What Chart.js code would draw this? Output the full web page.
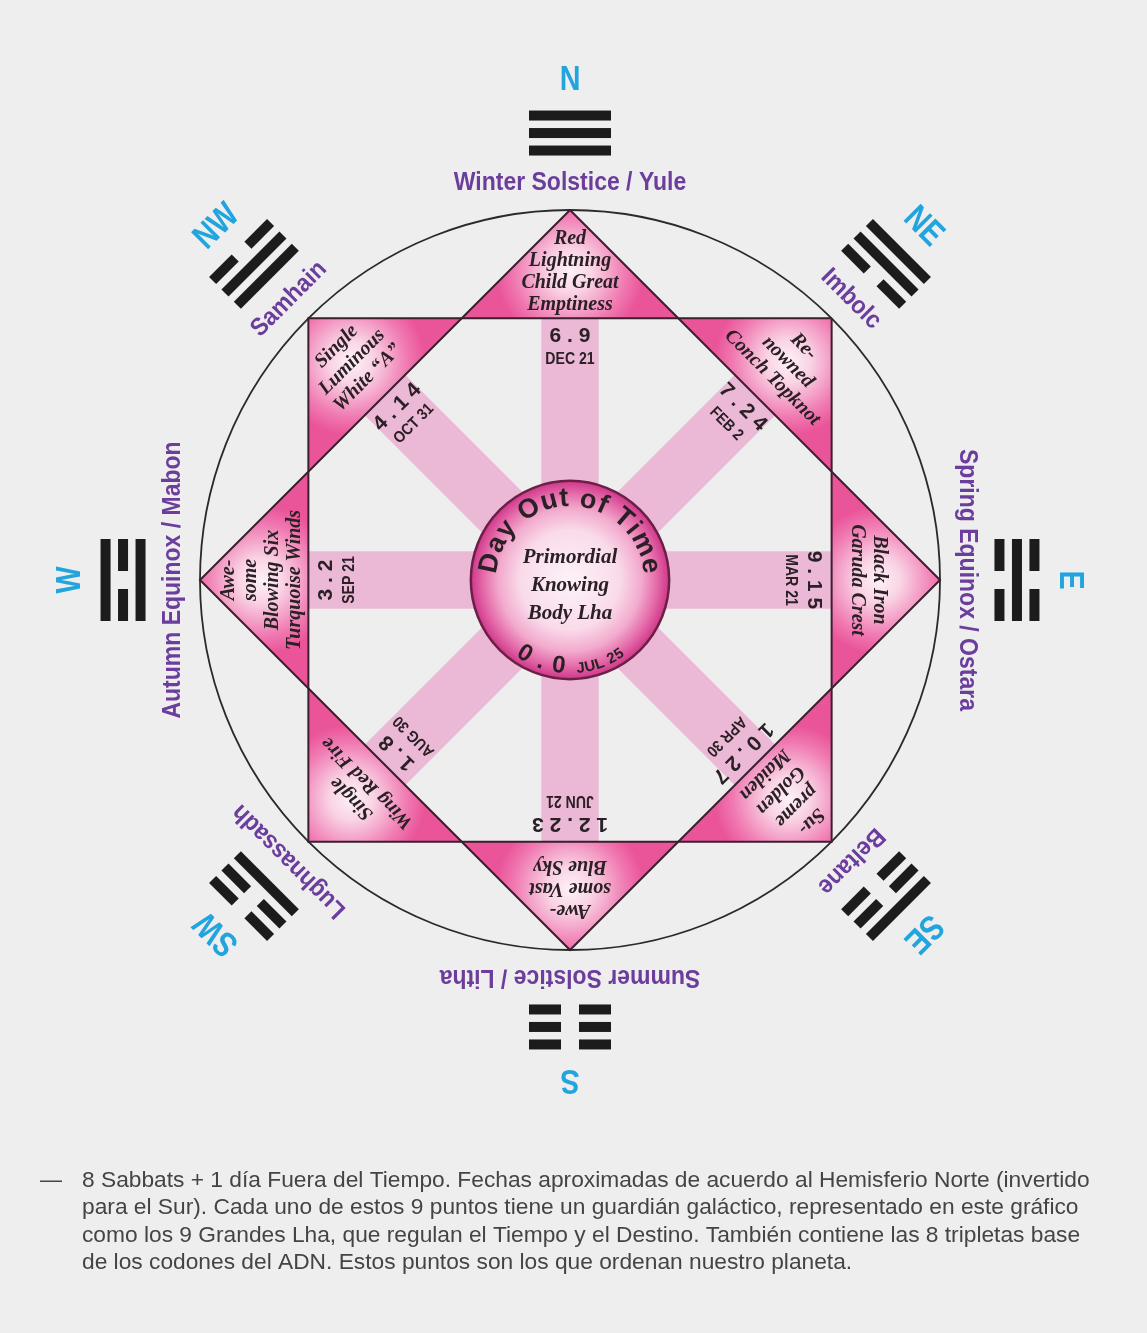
<!DOCTYPE html>
<html>
<head>
<meta charset="utf-8">
<script src="https://cdn.jsdelivr.net/npm/chart.js@4.4.0/dist/chart.umd.min.js"></script>
<style>
  html, body { margin: 0; padding: 0; background: #eeeeee; }
  canvas { display: block; }
</style>
</head>
<body>
<canvas id="myChart" width="1147" height="1333"></canvas>
<script>
// ---- data ----
const directions = ['N', 'NE', 'E', 'SE', 'S', 'SW', 'W', 'NW'];
const angles = [0, 45, 90, 135, 180, 225, 270, 315];
const sabbats = ['Winter Solstice / Yule', 'Imbolc', 'Spring Equinox / Ostara', 'Beltane',
                 'Summer Solstice / Litha', 'Lughnassadh', 'Autumn Equinox / Mabon', 'Samhain'];
// trigram lines from inner to outer, 1 = solid, 0 = broken
const trigrams = ['111', '011', '010', '001', '000', '100', '101', '110'];
const guardians = [
    ['Red', 'Lightning', 'Child Great', 'Emptiness'],
    ['Re-', 'nowned', 'Conch Topknot'],
    ['Black Iron', 'Garuda Crest'],
    ['Su-', 'preme', 'Golden', 'Maiden'],
    ['Awe-', 'some Vast', 'Blue Sky'],
    ['Single', 'Wing Red Fire'],
    ['Awe-', 'some', 'Blowing Six', 'Turquoise Winds'],
    ['Single', 'Luminous', 'White \u201CA\u201D']
];
const codes = ['6.9', '7.24', '9.15', '10.27', '12.23', '1.8', '3.2', '4.14'];
const dates = ['DEC 21', 'FEB 2', 'MAR 21', 'APR 30', 'JUN 21', 'AUG 30', 'SEP 21', 'OCT 31'];
const centerTitle = 'Day Out of Time';
const centerGuardian = ['Primordial', 'Knowing', 'Body Lha'];
const centerCode = '0.0';
const centerDate = 'JUL 25';
const footnote = [
    '8 Sabbats + 1 día Fuera del Tiempo. Fechas aproximadas de acuerdo al Hemisferio Norte (invertido',
    'para el Sur). Cada uno de estos 9 puntos tiene un guardián galáctico, representado en este gráfico',
    'como los 9 Grandes Lha, que regulan el Tiempo y el Destino. También contiene las 8 tripletas base',
    'de los codones del ADN. Estos puntos son los que ordenan nuestro planeta.'
];

// ---- layout (in units of the outer circle radius) ----
const CX = 570, CY = 580, RADIUS_PX = 370;
const APOTHEM = Math.SQRT1_2;
const OCT_R = APOTHEM / Math.cos(Math.PI / 8);
const CENTER_R = 0.268;
const RAY_W = 0.155;

const SANS = '"Liberation Sans", Arial, sans-serif';
const SERIF = '"Liberation Serif", "Times New Roman", serif';
const PURPLE = '#6b3d9c';
const CYAN = '#22a5de';
const INK = '#2a2026';

function pt(chart, r, deg) {
    const a = deg * Math.PI / 180;
    return {
        x: chart.scales.x.getPixelForValue(r * Math.sin(a)),
        y: chart.scales.y.getPixelForValue(r * Math.cos(a))
    };
}

function unit(chart) {
    return chart.scales.x.getPixelForValue(1) - chart.scales.x.getPixelForValue(0);
}

function drawText(ctx, text, p, rot, font, color, sx) {
    ctx.save();
    ctx.translate(p.x, p.y);
    ctx.rotate(rot);
    if (sx) ctx.scale(sx, 1);
    ctx.font = font;
    ctx.fillStyle = color;
    ctx.textAlign = 'center';
    ctx.textBaseline = 'middle';
    ctx.fillText(text, 0, 0);
    ctx.restore();
}

function arcText(ctx, c, runs, radius, mid, top) {
    let chars = [];
    runs.forEach(run => {
        ctx.font = run.font;
        for (const ch of run.text) {
            chars.push({ ch: ch, font: run.font, w: ctx.measureText(ch).width + run.spacing });
        }
    });
    let total = chars.reduce((s, k) => s + k.w, 0) / radius;
    let acc = 0;
    chars.forEach(k => {
        let phi = top ? mid - total / 2 + (acc + k.w / 2) / radius
                      : mid + total / 2 - (acc + k.w / 2) / radius;
        acc += k.w;
        ctx.save();
        ctx.translate(c.x + radius * Math.sin(phi), c.y - radius * Math.cos(phi));
        ctx.rotate(top ? phi : phi - Math.PI);
        ctx.font = k.font;
        ctx.fillStyle = INK;
        ctx.textAlign = 'center';
        ctx.textBaseline = 'alphabetic';
        ctx.fillText(k.ch, 0, 0);
        ctx.restore();
    });
}

const bgPlugin = {
    id: 'bg',
    beforeDraw(chart) {
        const ctx = chart.ctx;
        ctx.save();
        ctx.fillStyle = '#eeeeee';
        ctx.fillRect(0, 0, chart.width, chart.height);
        ctx.restore();
    }
};

const wheelPlugin = {
    id: 'wheel',
    beforeDatasetsDraw(chart) {
        const ctx = chart.ctx, u = unit(chart), c = pt(chart, 0, 0);
        ctx.save();
        // outer circle
        ctx.beginPath();
        ctx.arc(c.x, c.y, u, 0, 2 * Math.PI);
        ctx.strokeStyle = '#2a2a2a';
        ctx.lineWidth = 1.8;
        ctx.stroke();
        // rays
        angles.forEach(a => {
            const r = a * Math.PI / 180, hw = RAY_W * u / 2;
            const ox = Math.cos(r) * hw, oy = Math.sin(r) * hw;
            const p1 = pt(chart, APOTHEM, a);
            ctx.beginPath();
            ctx.moveTo(c.x + ox, c.y + oy);
            ctx.lineTo(p1.x + ox, p1.y + oy);
            ctx.lineTo(p1.x - ox, p1.y - oy);
            ctx.lineTo(c.x - ox, c.y - oy);
            ctx.closePath();
            ctx.fillStyle = '#ebb9d5';
            ctx.fill();
        });
        // star points
        angles.forEach(a => {
            const tip = pt(chart, 1, a), l = pt(chart, OCT_R, a - 22.5), rr = pt(chart, OCT_R, a + 22.5);
            const g = pt(chart, 0.835, a);
            const grad = ctx.createRadialGradient(g.x, g.y, 0, g.x, g.y, 0.2 * u);
            grad.addColorStop(0, '#fdf1f7');
            grad.addColorStop(0.3, '#f9d3e4');
            grad.addColorStop(0.75, '#f07ab2');
            grad.addColorStop(1, '#ea5499');
            ctx.beginPath();
            ctx.moveTo(tip.x, tip.y);
            ctx.lineTo(l.x, l.y);
            ctx.lineTo(rr.x, rr.y);
            ctx.closePath();
            ctx.fillStyle = grad;
            ctx.fill();
        });
        ctx.restore();
    },
    afterDatasetsDraw(chart) {
        const ctx = chart.ctx, u = unit(chart), c = pt(chart, 0, 0);
        ctx.save();
        // center disc
        const grad = ctx.createRadialGradient(c.x, c.y, 0, c.x, c.y, CENTER_R * u);
        grad.addColorStop(0, '#fdf2f8');
        grad.addColorStop(0.5, '#f9dbea');
        grad.addColorStop(0.72, '#f2aacd');
        grad.addColorStop(0.88, '#e468a8');
        grad.addColorStop(1, '#cf378a');
        ctx.beginPath();
        ctx.arc(c.x, c.y, CENTER_R * u, 0, 2 * Math.PI);
        ctx.fillStyle = grad;
        ctx.fill();
        ctx.strokeStyle = '#6a2145';
        ctx.lineWidth = 2.5;
        ctx.stroke();

        arcText(ctx, c, [{ text: centerTitle, font: 'bold 27px ' + SANS, spacing: 1 }], 0.2 * u, 0, true);
        arcText(ctx, c, [
            { text: centerCode.split('').join(' '), font: 'bold 24px ' + SANS, spacing: 1.5 },
            { text: '  ', font: 'bold 15px ' + SANS, spacing: 1.5 },
            { text: centerDate, font: 'bold 15px ' + SANS, spacing: 0.5 }
        ], 0.252 * u, Math.PI, false);
        centerGuardian.forEach((line, i) => {
            drawText(ctx, line, { x: c.x, y: c.y + (i - 1) * 28 + 6 }, 0, 'italic bold 21px ' + SERIF, INK);
        });

        angles.forEach((a, i) => {
            const rot = a * Math.PI / 180;
            // codes and dates on the rays
            drawText(ctx, codes[i].split('').join(' '), pt(chart, 0.66, a), rot, 'bold 21px ' + SANS, INK);
            drawText(ctx, dates[i], pt(chart, 0.597, a), rot, 'bold 16px ' + SANS, INK, 0.88);
            // guardian names in the star points
            const lines = guardians[i];
            const mid = lines.length === 2 ? 0.805 : 0.833;
            const sp = 0.0595;
            lines.forEach((line, j) => {
                const r = mid + ((lines.length - 1) / 2 - j) * sp;
                drawText(ctx, line, pt(chart, r, a), rot, 'italic bold 20px ' + SERIF, INK);
            });
            // sabbat names
            drawText(ctx, sabbats[i], pt(chart, 1.074, a), rot, 'bold 25px ' + SANS, PURPLE, 0.92);
            // trigram
            trigrams[i].split('').forEach((bit, k) => {
                const p = pt(chart, 1.208 + (k - 1) * 0.0473, a);
                ctx.save();
                ctx.translate(p.x, p.y);
                ctx.rotate(rot);
                ctx.fillStyle = '#1c1c1c';
                if (bit === '1') {
                    ctx.fillRect(-41, -5, 82, 10);
                } else {
                    ctx.fillRect(-41, -5, 32, 10);
                    ctx.fillRect(9, -5, 32, 10);
                }
                ctx.restore();
            });
            // compass letter
            drawText(ctx, directions[i], pt(chart, 1.35, a), rot, 'bold 35px ' + SANS, CYAN, 0.82);
        });

        // footnote
        ctx.fillStyle = '#444444';
        ctx.font = '22px ' + SANS;
        ctx.textAlign = 'left';
        ctx.textBaseline = 'alphabetic';
        ctx.fillText('\u2014', 40, 1187);
        footnote.forEach((line, i) => {
            ctx.save();
            ctx.translate(82, 1187 + i * 27.3);
            ctx.scale(1.034, 1);
            ctx.fillText(line, 0, 0);
            ctx.restore();
        });
        ctx.restore();
    }
};

const toXY = a => ({ x: Math.sin(a * Math.PI / 180), y: Math.cos(a * Math.PI / 180) });
let diamond = angles.filter((_, i) => i % 2 === 0);
diamond.push(diamond[0]);
let square = angles.filter((_, i) => i % 2 === 1);
square.push(square[0]);

const ctx = document.getElementById('myChart');
const config = {
    type: 'scatter',
    data: {
        datasets: [
            {
                label: 'diamond',
                data: diamond.map(toXY),
                showLine: true,
                borderColor: '#3b1f2d',
                borderWidth: 2,
                borderJoinStyle: 'miter',
                pointRadius: 0,
                fill: false
            },
            {
                label: 'square',
                data: square.map(toXY),
                showLine: true,
                borderColor: '#3b1f2d',
                borderWidth: 2,
                borderJoinStyle: 'miter',
                pointRadius: 0,
                fill: false
            }
        ]
    },
    options: {
        responsive: false,
        animation: false,
        devicePixelRatio: 1,
        events: [],
        layout: { padding: 0 },
        scales: {
            x: { type: 'linear', min: -CX / RADIUS_PX, max: (1147 - CX) / RADIUS_PX, display: false },
            y: { type: 'linear', min: -(1333 - CY) / RADIUS_PX, max: CY / RADIUS_PX, display: false }
        },
        plugins: {
            legend: { display: false },
            tooltip: { enabled: false }
        }
    },
    plugins: [bgPlugin, wheelPlugin]
};
const chart = new Chart(ctx, config);
</script>
</body>
</html>
